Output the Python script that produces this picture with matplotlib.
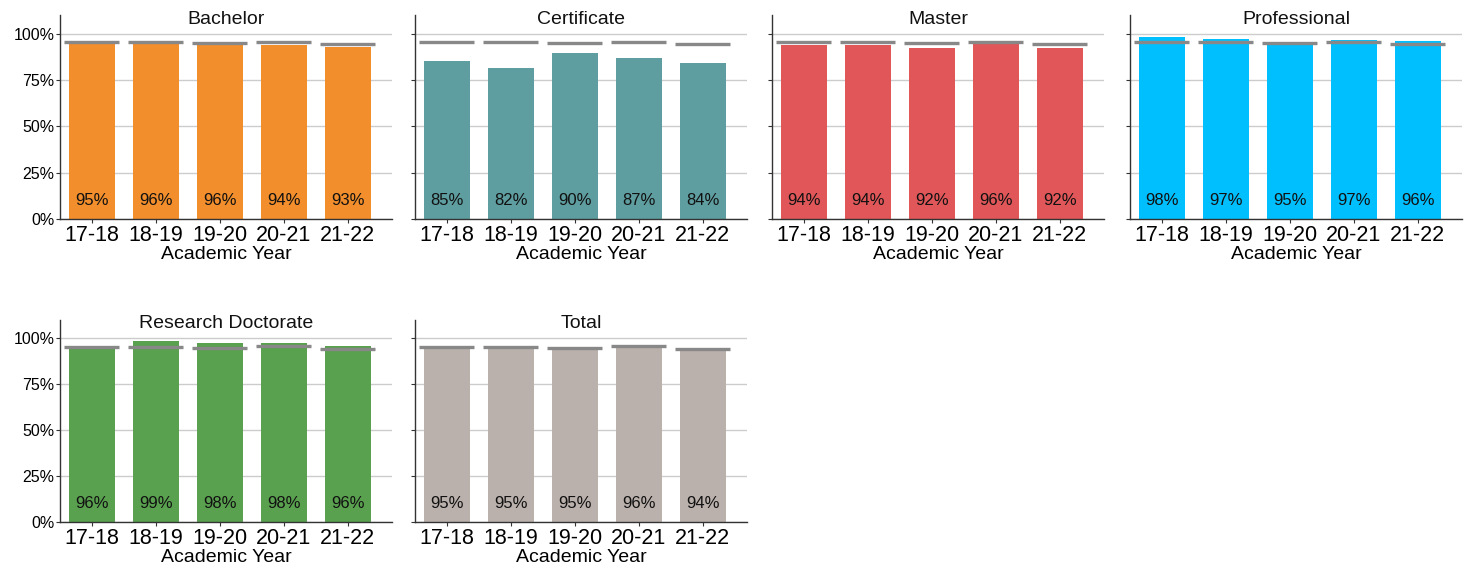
import matplotlib
matplotlib.use("Agg")
import matplotlib.pyplot as plt
import numpy as np

plt.rcParams['font.family'] = ['Liberation Sans', 'DejaVu Sans']

years = ["17-18", "18-19", "19-20", "20-21", "21-22"]
bachelor = [95.0, 95.6, 95.6, 94.0, 93.0]
certificate = [85.0, 81.6, 89.6, 86.9, 84.2]
master = [93.8, 93.8, 92.2, 95.6, 92.2]
professional = [98.1, 96.8, 95.2, 96.7, 96.2]
research_doctorate = [95.8, 98.6, 97.6, 97.6, 96.0]
total = [95.2, 95.3, 94.9, 95.6, 94.3]

panels = [
    ("Bachelor", bachelor, "#F28E2B"),
    ("Certificate", certificate, "#5F9EA0"),
    ("Master", master, "#E15759"),
    ("Professional", professional, "#00BFFF"),
    ("Research Doctorate", research_doctorate, "#59A14F"),
    ("Total", total, "#BAB0AC"),
]

fig = plt.figure(figsize=(14.66, 5.69), dpi=100)
lefts = [60, 415, 772, 1130]
W, H = 1466, 569
aw = 332
rows = [(15, 219), (320, 522)]

for i, (name, vals, color) in enumerate(panels):
    r, c = divmod(i, 4)
    top, bot = rows[r]
    ax = fig.add_axes([lefts[c] / W, 1 - bot / H, aw / W, (bot - top) / H])
    x = np.arange(len(years))
    ax.set_axisbelow(True)
    ax.yaxis.grid(True, color="#cccccc", linewidth=1.0)
    ax.bar(x, vals, width=0.72, color=color, zorder=2)
    ax.hlines(total, x - 0.43, x + 0.43, colors="#888888", linewidth=2.4, zorder=3)
    for xi, v in zip(x, vals):
        ax.text(xi, 6, f"{round(v):.0f}%", ha="center", va="bottom", fontsize=12, color="#111111", zorder=4)
    ax.set_ylim(0, 110)
    ax.set_xlim(-0.5, 4.69)
    ax.set_yticks([0, 25, 50, 75, 100])
    if c == 0:
        ax.set_yticklabels(["0%", "25%", "50%", "75%", "100%"], fontsize=11.5)
    else:
        ax.set_yticklabels([])
    ax.set_xticks(x)
    ax.set_xticklabels(years, fontsize=15.5)
    ax.set_xlabel("Academic Year", fontsize=14, labelpad=0)
    ax.text(0.5, (bot - 23.5 - top) / (bot - top) * 0 + (219 - 23.5) / 204, name,
            transform=ax.transAxes, ha="center", va="baseline", fontsize=14, color="#111111")
    for s in ["top", "right"]:
        ax.spines[s].set_visible(False)
    for s in ["left", "bottom"]:
        ax.spines[s].set_color("#333333")
        ax.spines[s].set_linewidth(1.0)
    ax.tick_params(axis="both", length=3, color="#333333", width=0.8, pad=1)

fig.savefig("out.png", dpi=100)
